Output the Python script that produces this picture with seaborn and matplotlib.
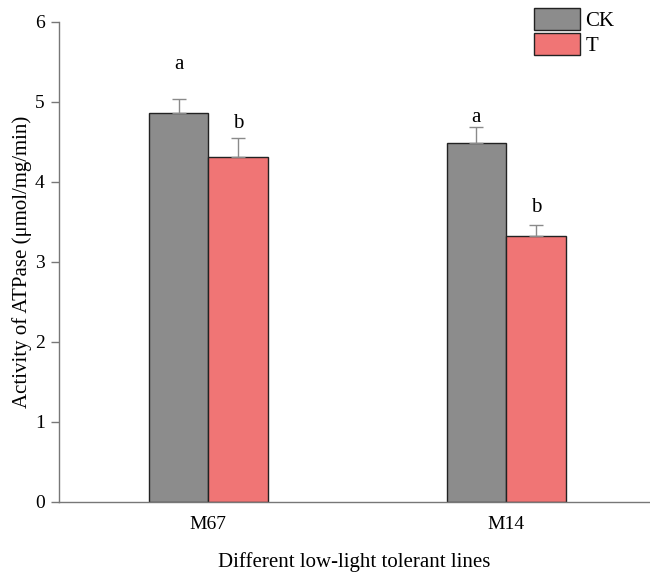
import pandas as pd
import seaborn as sns
import matplotlib.pyplot as plt
from matplotlib.patches import Patch

# --- data ---
lines = ['M67', 'M14']
treatments = ['CK', 'T']
ck_mean = [4.86, 4.49]
t_mean = [4.31, 3.32]
ck_err = [0.18, 0.20]
t_err = [0.24, 0.14]
ck_letters = ['a', 'a']
t_letters = ['b', 'b']
ck_letter_y = [5.46, 4.80]
t_letter_y = [4.73, 3.68]

colors = {'CK': '#8c8c8c', 'T': '#f07575'}

df = pd.DataFrame({
    'line': lines * 2,
    'group': ['CK'] * 2 + ['T'] * 2,
    'value': ck_mean + t_mean,
})

sns.set_style('white')
plt.rcParams['font.family'] = ['Liberation Serif', 'DejaVu Serif']
plt.rcParams['text.color'] = 'black'
plt.rcParams['axes.labelcolor'] = 'black'
plt.rcParams['xtick.color'] = 'black'
plt.rcParams['ytick.color'] = 'black'

fig, ax = plt.subplots(figsize=(6.5, 5.73), dpi=100)
sns.barplot(data=df, x='line', y='value', hue='group', order=lines,
            hue_order=treatments, palette=colors, width=0.4,
            edgecolor='#222222', linewidth=1.0, errorbar=None,
            legend=False, ax=ax, saturation=1)

# error bars (upper only) and significance letters
for group, errs, letters, ly in [('CK', ck_err, ck_letters, ck_letter_y),
                                  ('T', t_err, t_letters, t_letter_y)]:
    off = -0.1 if group == 'CK' else 0.1
    means = ck_mean if group == 'CK' else t_mean
    xs = [i + off for i in range(len(lines))]
    ax.errorbar(xs, means, yerr=[[0] * len(errs), errs], fmt='none',
                ecolor='#8a8a8a', elinewidth=1.0, capsize=5, capthick=1.0)
    for x, lab, y in zip(xs, letters, ly):
        ax.text(x, y, lab, ha='center', va='center', fontsize=15)

ax.set_ylim(0, 6)
ax.set_xlim(-0.503, 1.483)
ax.set_yticks(range(0, 7))
ax.tick_params(axis='y', direction='out', length=6, width=1, color='#777777',
               labelcolor='black', labelsize=14, pad=4, left=True)
ax.tick_params(axis='x', length=0, labelcolor='black', labelsize=14, pad=10)
for s in ['top', 'right']:
    ax.spines[s].set_visible(False)
for s in ['left', 'bottom']:
    ax.spines[s].set_color('#777777')
    ax.spines[s].set_linewidth(1.0)

ax.set_xlabel('Different low-light tolerant lines', fontsize=15, labelpad=14)
ax.set_ylabel('Activity of ATPase (μmol/mg/min)', fontsize=15, labelpad=2)

handles = [Patch(facecolor=colors[g], edgecolor='#222222', linewidth=1.0, label=g)
           for g in treatments]
ax.legend(handles=handles, loc='upper left', bbox_to_anchor=(0.787, 1.05),
          frameon=False, fontsize=15, handlelength=2.2, handleheight=1.25,
          handletextpad=0.25, labelspacing=0.08, borderpad=0)

plt.subplots_adjust(left=0.09, right=1.0, bottom=0.124, top=0.962)
plt.savefig('out.png', dpi=100)
